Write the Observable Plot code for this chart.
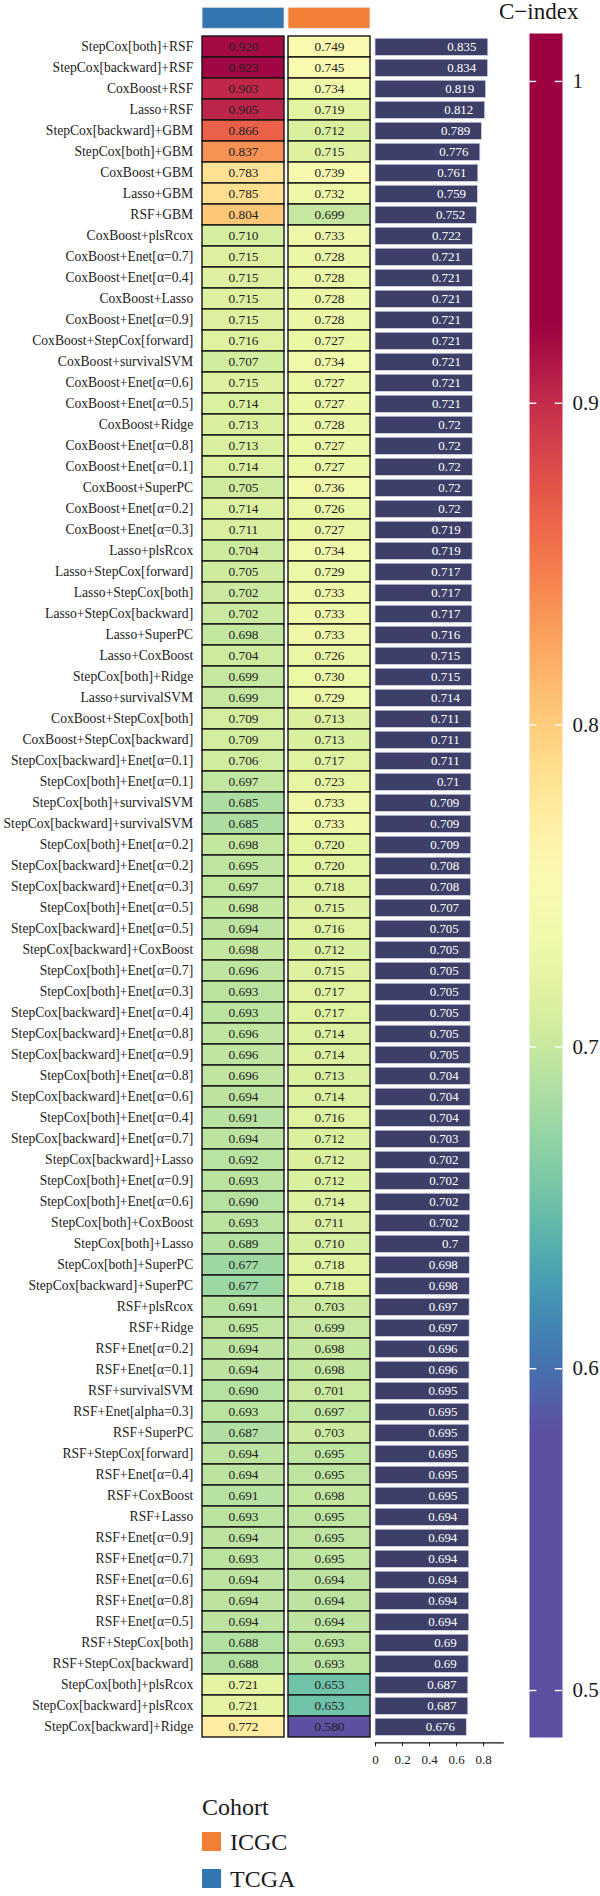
<!DOCTYPE html>
<html>
<head>
<meta charset="utf-8">
<script src="https://cdn.jsdelivr.net/npm/d3@7"></script>
<script src="https://cdn.jsdelivr.net/npm/@observablehq/plot@0.6"></script>
<style>
  body { margin: 0; background: #fff; }
  #chart { position: relative; width: 600px; height: 1896px; font-family: "Liberation Serif", serif; color: #1a1a1a; overflow: hidden; }
  #chart > svg { position: absolute; left: 0; top: 0; overflow: visible; }
  .txt { position: absolute; white-space: nowrap; line-height: 1; }
  .swatch { position: absolute; width: 19px; height: 18.5px; }
</style>
</head>
<body>
<div id="chart"></div>
<script>
// Model combinations, ordered by mean C-index
const models = [
  "StepCox[both]+RSF", "StepCox[backward]+RSF", "CoxBoost+RSF", "Lasso+RSF",
  "StepCox[backward]+GBM", "StepCox[both]+GBM", "CoxBoost+GBM", "Lasso+GBM", "RSF+GBM",
  "CoxBoost+plsRcox", "CoxBoost+Enet[α=0.7]", "CoxBoost+Enet[α=0.4]", "CoxBoost+Lasso",
  "CoxBoost+Enet[α=0.9]", "CoxBoost+StepCox[forward]", "CoxBoost+survivalSVM",
  "CoxBoost+Enet[α=0.6]", "CoxBoost+Enet[α=0.5]", "CoxBoost+Ridge", "CoxBoost+Enet[α=0.8]",
  "CoxBoost+Enet[α=0.1]", "CoxBoost+SuperPC", "CoxBoost+Enet[α=0.2]", "CoxBoost+Enet[α=0.3]",
  "Lasso+plsRcox", "Lasso+StepCox[forward]", "Lasso+StepCox[both]", "Lasso+StepCox[backward]",
  "Lasso+SuperPC", "Lasso+CoxBoost", "StepCox[both]+Ridge", "Lasso+survivalSVM",
  "CoxBoost+StepCox[both]", "CoxBoost+StepCox[backward]", "StepCox[backward]+Enet[α=0.1]",
  "StepCox[both]+Enet[α=0.1]", "StepCox[both]+survivalSVM", "StepCox[backward]+survivalSVM",
  "StepCox[both]+Enet[α=0.2]", "StepCox[backward]+Enet[α=0.2]", "StepCox[backward]+Enet[α=0.3]",
  "StepCox[both]+Enet[α=0.5]", "StepCox[backward]+Enet[α=0.5]", "StepCox[backward]+CoxBoost",
  "StepCox[both]+Enet[α=0.7]", "StepCox[both]+Enet[α=0.3]", "StepCox[backward]+Enet[α=0.4]",
  "StepCox[backward]+Enet[α=0.8]", "StepCox[backward]+Enet[α=0.9]", "StepCox[both]+Enet[α=0.8]",
  "StepCox[backward]+Enet[α=0.6]", "StepCox[both]+Enet[α=0.4]", "StepCox[backward]+Enet[α=0.7]",
  "StepCox[backward]+Lasso", "StepCox[both]+Enet[α=0.9]", "StepCox[both]+Enet[α=0.6]",
  "StepCox[both]+CoxBoost", "StepCox[both]+Lasso", "StepCox[both]+SuperPC",
  "StepCox[backward]+SuperPC", "RSF+plsRcox", "RSF+Ridge", "RSF+Enet[α=0.2]", "RSF+Enet[α=0.1]",
  "RSF+survivalSVM", "RSF+Enet[alpha=0.3]", "RSF+SuperPC", "RSF+StepCox[forward]",
  "RSF+Enet[α=0.4]", "RSF+CoxBoost", "RSF+Lasso", "RSF+Enet[α=0.9]", "RSF+Enet[α=0.7]",
  "RSF+Enet[α=0.6]", "RSF+Enet[α=0.8]", "RSF+Enet[α=0.5]", "RSF+StepCox[both]",
  "RSF+StepCox[backward]", "StepCox[both]+plsRcox", "StepCox[backward]+plsRcox",
  "StepCox[backward]+Ridge"
];

// C-index in the TCGA cohort
const tcga = [
  0.920, 0.923, 0.903, 0.905, 0.866, 0.837, 0.783, 0.785, 0.804,
  0.710, 0.715, 0.715, 0.715, 0.715, 0.716, 0.707, 0.715, 0.714, 0.713, 0.713,
  0.714, 0.705, 0.714, 0.711, 0.704, 0.705, 0.702, 0.702, 0.698, 0.704,
  0.699, 0.699, 0.709, 0.709, 0.706, 0.697, 0.685, 0.685, 0.698, 0.695,
  0.697, 0.698, 0.694, 0.698, 0.696, 0.693, 0.693, 0.696, 0.696, 0.696,
  0.694, 0.691, 0.694, 0.692, 0.693, 0.690, 0.693, 0.689, 0.677, 0.677,
  0.691, 0.695, 0.694, 0.694, 0.690, 0.693, 0.687, 0.694, 0.694, 0.691,
  0.693, 0.694, 0.693, 0.694, 0.694, 0.694, 0.688, 0.688, 0.721, 0.721, 0.772
];

// C-index in the ICGC cohort
const icgc = [
  0.749, 0.745, 0.734, 0.719, 0.712, 0.715, 0.739, 0.732, 0.699,
  0.733, 0.728, 0.728, 0.728, 0.728, 0.727, 0.734, 0.727, 0.727, 0.728, 0.727,
  0.727, 0.736, 0.726, 0.727, 0.734, 0.729, 0.733, 0.733, 0.733, 0.726,
  0.730, 0.729, 0.713, 0.713, 0.717, 0.723, 0.733, 0.733, 0.720, 0.720,
  0.718, 0.715, 0.716, 0.712, 0.715, 0.717, 0.717, 0.714, 0.714, 0.713,
  0.714, 0.716, 0.712, 0.712, 0.712, 0.714, 0.711, 0.710, 0.718, 0.718,
  0.703, 0.699, 0.698, 0.698, 0.701, 0.697, 0.703, 0.695, 0.695, 0.698,
  0.695, 0.695, 0.695, 0.694, 0.694, 0.694, 0.693, 0.693, 0.653, 0.653, 0.580
];

// Mean C-index across both cohorts
const meanC = [
  0.835, 0.834, 0.819, 0.812, 0.789, 0.776, 0.761, 0.759, 0.752,
  0.722, 0.721, 0.721, 0.721, 0.721, 0.721, 0.721, 0.721, 0.721, 0.72, 0.72,
  0.72, 0.72, 0.72, 0.719, 0.719, 0.717, 0.717, 0.717, 0.716, 0.715,
  0.715, 0.714, 0.711, 0.711, 0.711, 0.71, 0.709, 0.709, 0.709, 0.708,
  0.708, 0.707, 0.705, 0.705, 0.705, 0.705, 0.705, 0.705, 0.705, 0.704,
  0.704, 0.704, 0.703, 0.702, 0.702, 0.702, 0.702, 0.7, 0.698, 0.698,
  0.697, 0.697, 0.696, 0.696, 0.695, 0.695, 0.695, 0.695, 0.695, 0.695,
  0.694, 0.694, 0.694, 0.694, 0.694, 0.694, 0.69, 0.69, 0.687, 0.687, 0.676
];

const cohorts = ["TCGA", "ICGC"];
const cohortColors = ["#3375b0", "#f17f35"];
const legendOrder = ["ICGC", "TCGA"];
const colorTicks = [0.5, 0.6, 0.7, 0.8, 0.9, 1];
const barTicks = [0, 0.2, 0.4, 0.6, 0.8];

// Long table for the heatmap cells
const cells = models.flatMap((m, i) => [
  {model: m, cohort: "TCGA", value: tcga[i]},
  {model: m, cohort: "ICGC", value: icgc[i]}
]);
const rows = models.map((m, i) => ({model: m, mean: meanC[i]}));

const W = 600;
const H = 1780;
const top0 = 31.7, bottom0 = 1742.3;
const font = "Liberation Serif";

// Shared C-index colour scale (reversed Spectral)
const colorScale = {type: "linear", scheme: "spectral", reverse: true, domain: [0.58, 0.925], clamp: true};
const cohortX = {domain: cohorts, paddingInner: 0.046, paddingOuter: 0, axis: null};

const chart = document.getElementById("chart");

// Cohort annotation boxes above the heatmap
const header = Plot.plot({
  width: W, height: top0,
  marginTop: 7.3, marginBottom: 3.4, marginLeft: 201.7, marginRight: W - 371,
  x: cohortX,
  color: {domain: cohorts, range: cohortColors},
  style: {background: "transparent"},
  marks: [
    Plot.cell(cohorts, {x: d => d, fill: d => d, stroke: "#e6e6e6", strokeWidth: 0.8, inset: 0})
  ]
});

// Heatmap of C-index per cohort with row labels
const heat = Plot.plot({
  width: W, height: H,
  marginTop: top0, marginBottom: H - bottom0, marginLeft: 201.7, marginRight: W - 371,
  x: cohortX,
  y: {domain: models, padding: 0},
  color: colorScale,
  style: {fontFamily: font, background: "transparent"},
  marks: [
    Plot.cell(cells, {x: "cohort", y: "model", fill: "value", stroke: "#141414", strokeWidth: 1.4, inset: 0}),
    Plot.text(cells, {x: "cohort", y: "model", text: d => d.value.toFixed(3), fontSize: 13.3, fill: "#222"}),
    Plot.axisY({tickSize: 0, tickPadding: 9, fontSize: 13.6, label: null, fill: "#222"})
  ]
});

// Mean C-index bars
const bars = Plot.plot({
  width: W, height: H,
  marginTop: top0, marginBottom: H - bottom0, marginLeft: 375, marginRight: W - 502.7,
  x: {domain: [0, 0.945]},
  y: {domain: models, padding: 0, axis: null},
  style: {fontFamily: font, background: "transparent"},
  marks: [
    Plot.barX(rows, {x: "mean", y: "model", fill: "#3d3f68", stroke: "#d6d6e4", strokeWidth: 0.8, insetTop: 2.2, insetBottom: 1.5}),
    Plot.text(rows, {x: "mean", y: "model", text: d => String(d.mean), textAnchor: "end", dx: -12, fill: "white", fontSize: 12.9}),
    Plot.frame({anchor: "bottom", stroke: "#111", strokeWidth: 1.3}),
    Plot.axisX({ticks: barTicks, tickSize: 4, tickPadding: 8, fontSize: 13, label: null, tickFormat: d => String(d), fill: "#222"})
  ]
});

// Colour bar legend for the C-index
const cbBottom = 1737, cbTop = 33;
const bar = Plot.plot({
  width: W, height: 1896,
  marginTop: cbTop, marginBottom: 1896 - cbBottom, marginLeft: 529, marginRight: W - 562,
  x: {domain: [0, 1], axis: null},
  y: {domain: [0.4854, 1.0149], axis: null},
  color: colorScale,
  style: {fontFamily: font, background: "transparent"},
  marks: [
    Plot.raster({x1: 0, x2: 1, y1: 0.4854, y2: 1.0149, fill: (x, y) => y}),
    Plot.ruleY(colorTicks, {x1: 0, x2: 0.22, stroke: "white", strokeWidth: 1.4}),
    Plot.ruleY(colorTicks, {x1: 0.78, x2: 1, stroke: "white", strokeWidth: 1.4}),
    Plot.text(colorTicks, {x: 1, y: d => d, text: d => String(d), textAnchor: "start", dx: 10, fontSize: 21, fill: "#1a1a1a"})
  ]
});

chart.append(header, heat, bars, bar);

// Colour bar title
const title = document.createElement("div");
title.className = "txt";
title.style.cssText = "left:499px;top:-0.5px;font-size:23px;";
title.textContent = "C\u2212index";
chart.append(title);

// Cohort legend below the chart
const lgTitle = document.createElement("div");
lgTitle.className = "txt";
lgTitle.style.cssText = "left:202px;top:1795px;font-size:24px;";
lgTitle.textContent = "Cohort";
chart.append(lgTitle);

legendOrder.forEach((c, i) => {
  const y0 = 1832.2 + i * 37;
  const sw = document.createElement("div");
  sw.className = "swatch";
  sw.style.left = "202px";
  sw.style.top = y0 + "px";
  sw.style.background = cohortColors[cohorts.indexOf(c)];
  const lb = document.createElement("div");
  lb.className = "txt";
  lb.style.cssText = `left:230px;top:${y0 - 2.2}px;font-size:24px;`;
  lb.textContent = c;
  chart.append(sw, lb);
});
</script>
</body>
</html>
